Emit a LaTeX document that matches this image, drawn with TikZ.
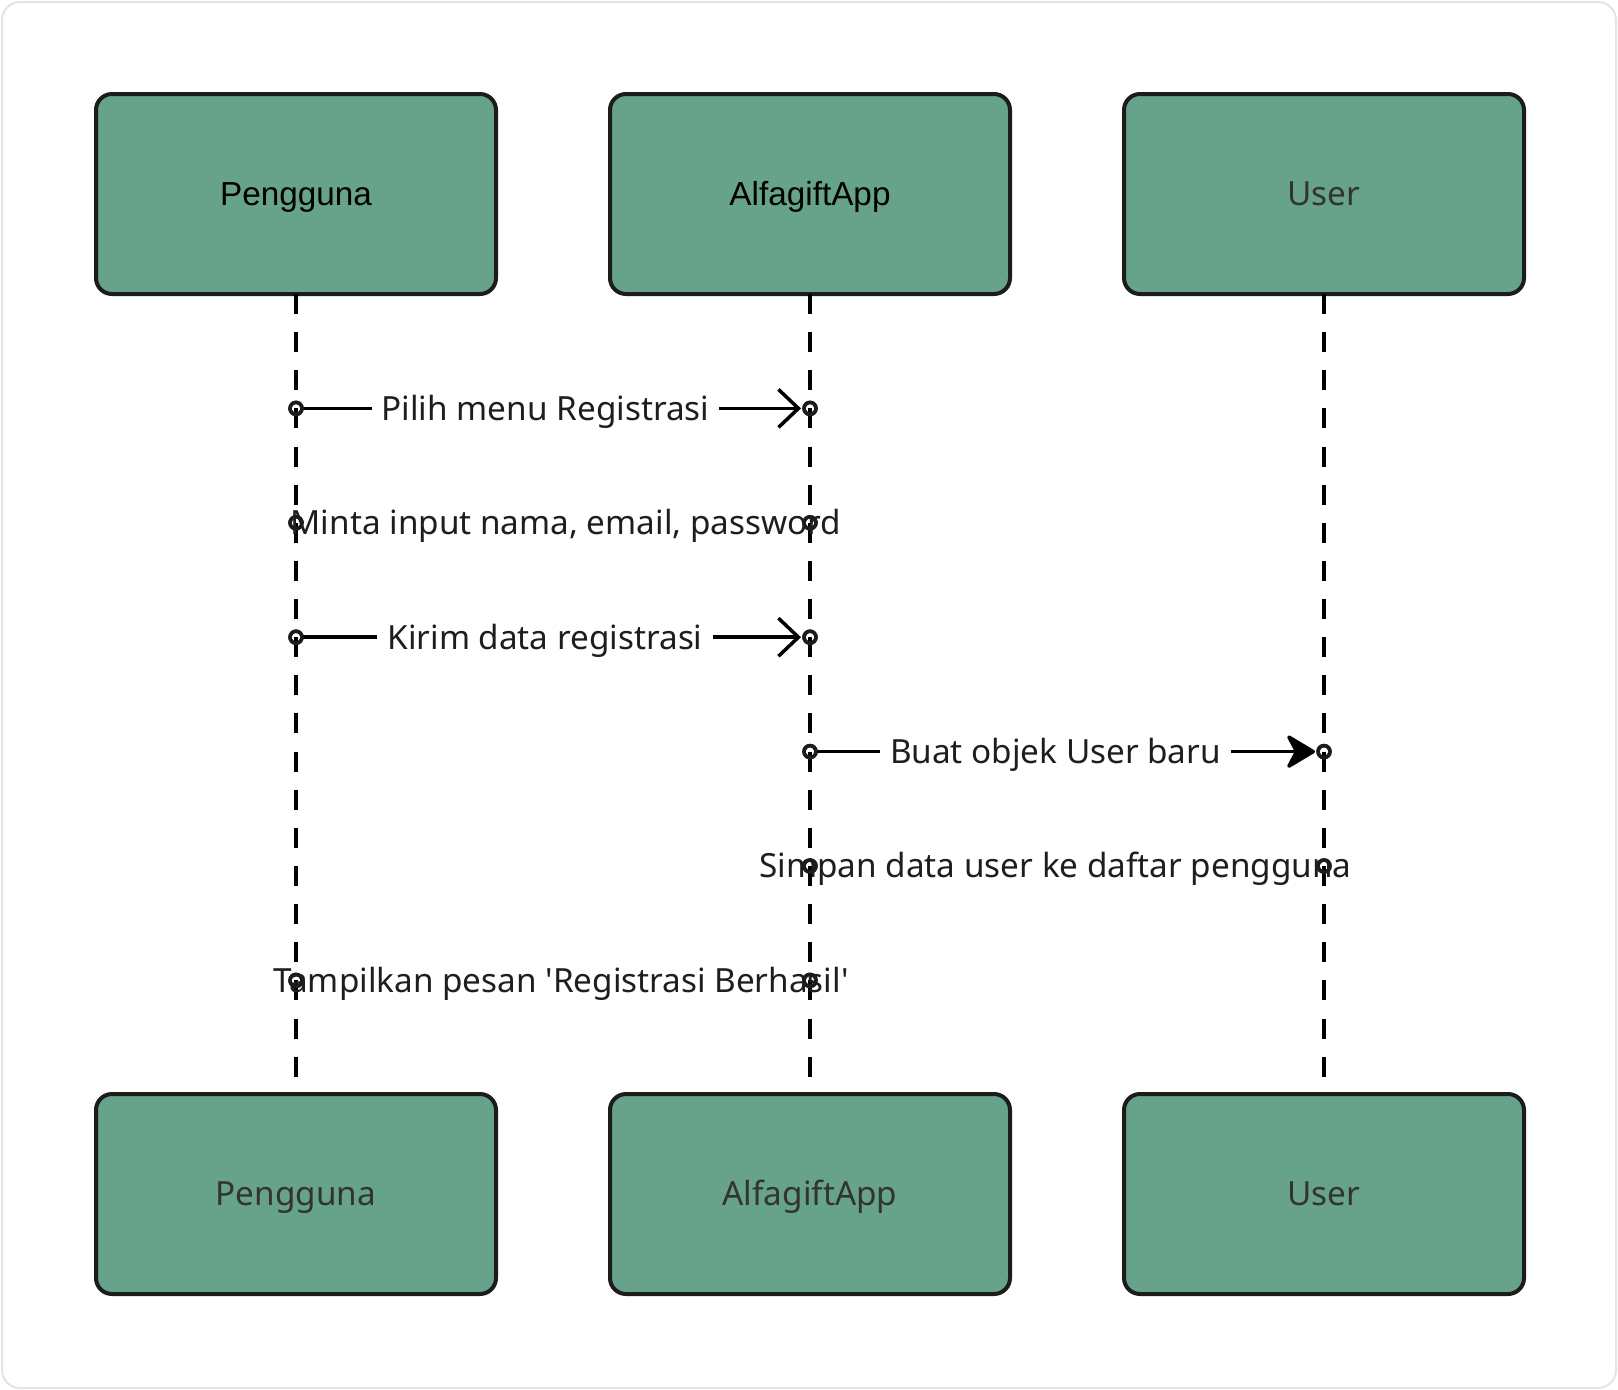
\documentclass[tikz,border=0pt]{standalone}
\usepackage{fontspec}
\setmainfont{Noto Sans}[Ligatures=TeXOff]
\newfontfamily\arialfont{Liberation Sans}
\usetikzlibrary{arrows.meta}
\definecolor{boxfill}{HTML}{66A38A}
\definecolor{boxline}{HTML}{1C1C1C}
\definecolor{labelgray}{HTML}{333333}
\definecolor{msgtext}{HTML}{1E1E1E}
\definecolor{framecol}{HTML}{E4E4E4}
\tikzset{
  actor/.style={draw=boxline, fill=boxfill, line width=4pt, rounded corners=16pt,
    minimum width=400pt, minimum height=200pt, outer sep=0pt, inner sep=0pt,
    font=\fontsize{33.3}{40}\selectfont, text=labelgray, text height=23.8pt, text depth=0pt},
  lifeline/.style={draw=black, line width=4pt, dash pattern=on 20pt off 18.133pt},
  dot/.style={circle, draw=boxline, line width=3.5pt, minimum size=12pt, inner sep=0pt, outer sep=0pt},
  msgline/.style={draw=black, line width=3.5pt},
  msglabel/.style={font=\fontsize{33.3}{40}\selectfont, text=msgtext, text height=23.8pt, text depth=0pt,
    inner xsep=10pt, inner ysep=3pt},
  openhead/.style={-{Straight Barb[length=20pt,width=38pt]}, shorten >=3pt},
  fillhead/.style={-{Stealth[length=32pt,width=38pt,inset=10pt,round]}, shorten >=3pt}
}
\begin{document}
\begin{tikzpicture}[x=1pt,y=-1pt]
\useasboundingbox (0,0) rectangle (1618,1390);
\draw[framecol, fill=white, line width=2pt, rounded corners=18pt] (2,2) rectangle (1616,1388);

% top actors
\node[actor, text=black, font=\fontsize{33.3}{40}\selectfont\arialfont] (t1) at (296,194) {Pengguna};
\node[actor, text=black, font=\fontsize{33.3}{40}\selectfont\arialfont] (t2) at (810,194) {AlfagiftApp};
\node[actor] (t3) at (1324,194) {User};
% bottom actors
\node[actor] (b1) at (296,1194) {Pengguna};
\node[actor] (b2) at (810,1194) {AlfagiftApp};
\node[actor] (b3) at (1324,1194) {User};

% lifelines
\draw[lifeline] (t1.south) -- (b1.north);
\draw[lifeline] (t2.south) -- (b2.north);
\draw[lifeline] (t3.south) -- (b3.north);

% message end points
\node[dot] (m1s) at (296,408.4) {};
\node[dot] (m1t) at (810,408.4) {};
\node[dot] (m2s) at (296,522.8) {};
\node[dot] (m2t) at (810,522.8) {};
\node[dot] (m3s) at (296,637.2) {};
\node[dot] (m3t) at (810,637.2) {};
\node[dot] (m4s) at (810,751.6) {};
\node[dot] (m4t) at (1324,751.6) {};
\node[dot] (m5s) at (810,866) {};
\node[dot] (m5t) at (1324,866) {};
\node[dot] (m6s) at (296,980.4) {};
\node[dot] (m6t) at (810,980.4) {};

% messages
\draw[msgline, openhead] (m1s) -- (m1t);
\node[msglabel, fill=white] (l1) at (545.5,408.4) {Pilih menu Registrasi};

\node[msglabel] (l2) at (566,522.8) {Minta input nama, email, password};

\draw[msgline, openhead] (m3s) -- (m3t);
\node[msglabel, fill=white] (l3) at (545,637.2) {Kirim data registrasi};

\draw[msgline, fillhead] (m4s) -- (m4t);
\node[msglabel, fill=white] (l4) at (1055.5,751.6) {Buat objek User baru};

\node[msglabel] (l5) at (1055.5,866) {Simpan data user ke daftar pengguna};

\node[msglabel] (l6) at (561,980.4) {Tampilkan pesan 'Registrasi Berhasil'};

% redraw dots on top
\foreach \n in {m1s,m1t,m2s,m2t,m3s,m3t,m4s,m4t,m5s,m5t,m6s,m6t}
  \draw[boxline, line width=3.5pt] (\n.center) circle[radius=6pt];
\end{tikzpicture}
\end{document}
